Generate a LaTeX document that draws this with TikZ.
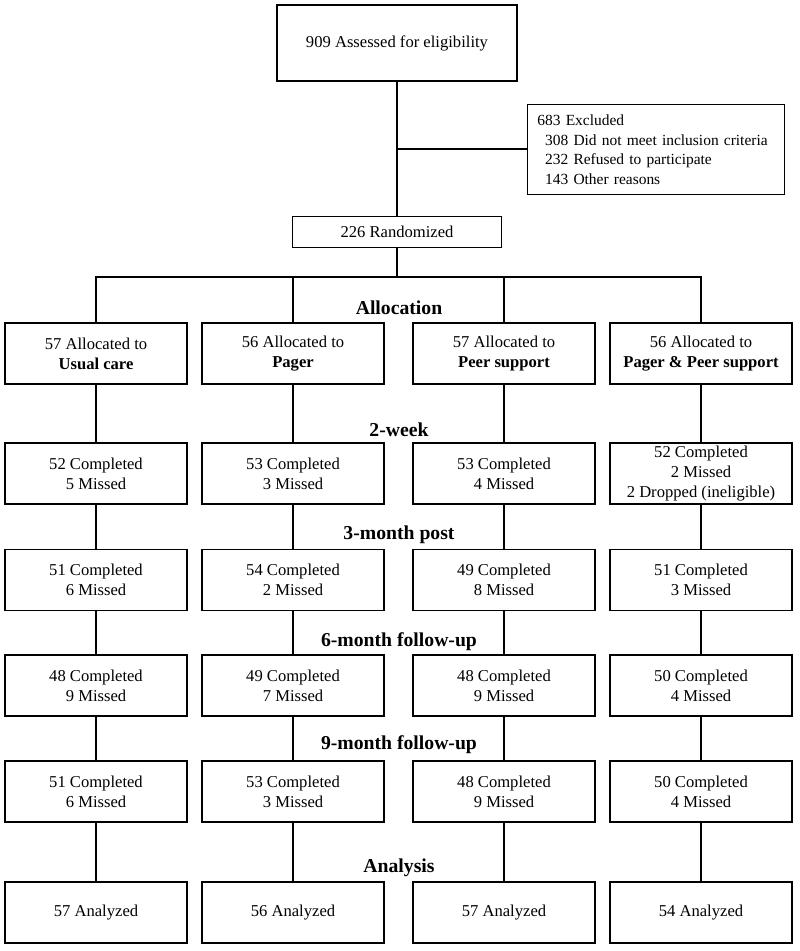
\documentclass[tikz,border=0pt]{standalone}
\usepackage{fontspec}
\setmainfont{Liberation Serif}
\usetikzlibrary{positioning}
\newcommand{\boxfont}{\fontsize{11.8}{14.2}\selectfont}

\begin{document}
\begin{tikzpicture}[
		x=0.025cm, y=-0.025cm,
		line width=0.8pt,
		arm/.style={draw, rectangle, line width=0.8pt, minimum width=4.55cm, minimum height=1.525cm, inner sep=2pt, align=center, font=\boxfont},
		phase/.style={font=\fontsize{14}{16}\selectfont\bfseries},
	]
	\useasboundingbox (0,0) rectangle (800,951);

	% enrollment
	\node[draw, rectangle, minimum width=6cm, minimum height=1.9cm, font=\boxfont] (assessed) at (397,43) {909 Assessed for eligibility};
	\node[draw, rectangle, anchor=north west, minimum width=6.425cm, minimum height=2.25cm, inner xsep=7pt, text width=6.425cm-14pt, align=left, font=\fontsize{11}{13.9}\selectfont] (excluded) at (527,104) {\mbox{683 Excluded}\\
		\mbox{\hspace*{5.5pt}308 Did not meet inclusion criteria}\\
		\mbox{\hspace*{5.5pt}232 Refused to participate}\\
		\mbox{\hspace*{5.5pt}143 Other reasons}};
	\node[draw, rectangle, minimum width=5.225cm, minimum height=0.775cm, font=\boxfont] (randomized) at (397,232) {226 Randomized};
	\coordinate (excl_split) at (397,149);
	\coordinate (arm_split) at (397,277);

	% phase headings
	\node[phase] (allocation) at (399,308) {Allocation};
	\node[phase] (two_week) at (399,430) {2-week};
	\node[phase] (three_month) at (399,535) {3-month post};
	\node[phase] (six_month) at (399,642) {6-month follow-up};
	\node[phase] (nine_month) at (399,745) {9-month follow-up};
	\node[phase] (analysis) at (399,868) {Analysis};

	% allocation
	\node[arm] (usual_alloc) at (96,353.5) {57 Allocated to\\ \textbf{Usual care}};
	\node[arm] (pager_alloc) at (293,353.5) {56 Allocated to\\ \textbf{Pager}};
	\node[arm] (peer_alloc) at (504,353.5) {57 Allocated to\\ \textbf{Peer support}};
	\node[arm] (both_alloc) at (701,353.5) {56 Allocated to\\ \textbf{Pager \& Peer support}};

	% 2-week
	\node[arm] (usual_wk2) at (96,473.5) {52 Completed\\ 5 Missed};
	\node[arm] (pager_wk2) at (293,473.5) {53 Completed\\ 3 Missed};
	\node[arm] (peer_wk2) at (504,473.5) {53 Completed\\ 4 Missed};
	\node[arm] (both_wk2) at (701,473.5) {52 Completed\\ 2 Missed\\ 2 Dropped (ineligible)};

	% 3-month
	\node[arm] (usual_mo3) at (96,580) {51 Completed\\ 6 Missed};
	\node[arm] (pager_mo3) at (293,580) {54 Completed\\ 2 Missed};
	\node[arm] (peer_mo3) at (504,580) {49 Completed\\ 8 Missed};
	\node[arm] (both_mo3) at (701,580) {51 Completed\\ 3 Missed};

	% 6-month
	\node[arm] (usual_mo6) at (96,685.5) {48 Completed\\ 9 Missed};
	\node[arm] (pager_mo6) at (293,685.5) {49 Completed\\ 7 Missed};
	\node[arm] (peer_mo6) at (504,685.5) {48 Completed\\ 9 Missed};
	\node[arm] (both_mo6) at (701,685.5) {50 Completed\\ 4 Missed};

	% 9-month
	\node[arm] (usual_mo9) at (96,791.5) {51 Completed\\ 6 Missed};
	\node[arm] (pager_mo9) at (293,791.5) {53 Completed\\ 3 Missed};
	\node[arm] (peer_mo9) at (504,791.5) {48 Completed\\ 9 Missed};
	\node[arm] (both_mo9) at (701,791.5) {50 Completed\\ 4 Missed};

	% analysis
	\node[arm] (usual_anal) at (96,912.5) {57 Analyzed};
	\node[arm] (pager_anal) at (293,912.5) {56 Analyzed};
	\node[arm] (peer_anal) at (504,912.5) {57 Analyzed};
	\node[arm] (both_anal) at (701,912.5) {54 Analyzed};

	\draw (assessed) -- (randomized);
	\draw (excl_split) -- (excl_split -| excluded.west);
	\draw (randomized) -- (arm_split);
	\draw (arm_split) -| (usual_alloc);
	\draw (arm_split) -| (pager_alloc);
	\draw (arm_split) -| (peer_alloc);
	\draw (arm_split) -| (both_alloc);

	\draw (usual_alloc) -- (usual_wk2) -- (usual_mo3) -- (usual_mo6) -- (usual_mo9) -- (usual_anal);
	\draw (pager_alloc) -- (pager_wk2) -- (pager_mo3) -- (pager_mo6) -- (pager_mo9) -- (pager_anal);
	\draw (peer_alloc) -- (peer_wk2) -- (peer_mo3) -- (peer_mo6) -- (peer_mo9) -- (peer_anal);
	\draw (both_alloc) -- (both_wk2) -- (both_mo3) -- (both_mo6) -- (both_mo9) -- (both_anal);
\end{tikzpicture}
\end{document}
